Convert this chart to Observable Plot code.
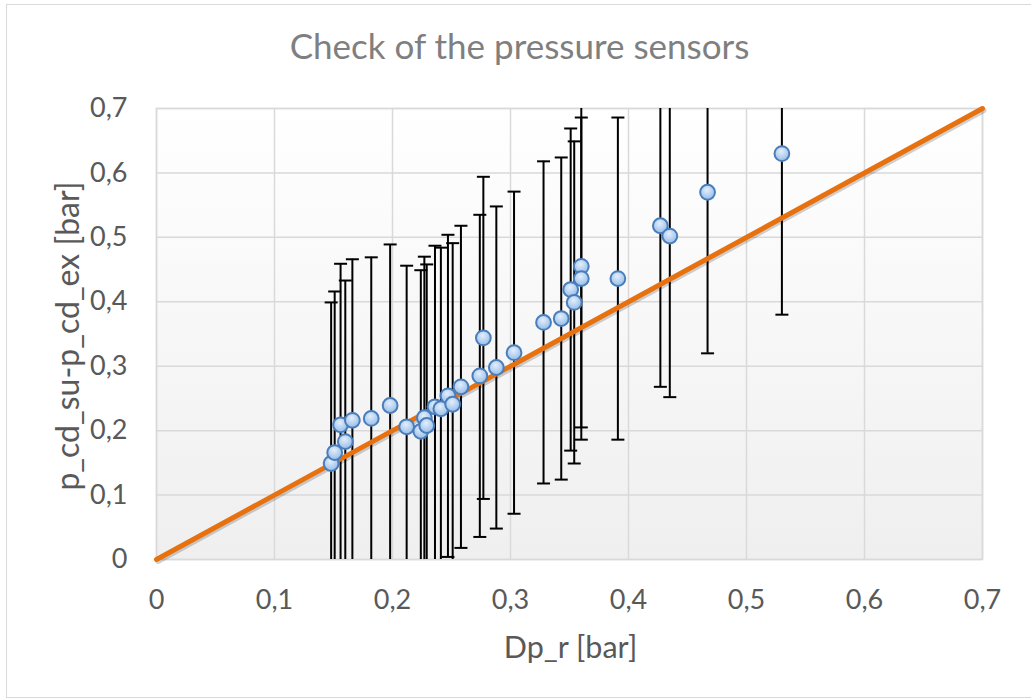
<!DOCTYPE html>
<html><head><meta charset="utf-8">
<script src="https://cdn.jsdelivr.net/npm/d3@7"></script>
<script src="https://cdn.jsdelivr.net/npm/@observablehq/plot@0.6"></script>
<style>
body{margin:0;background:#fff;}
#chart{position:relative;width:1031px;height:699px;overflow:hidden;}
#border{position:absolute;left:6px;top:4px;width:1060px;height:694px;border:1.5px solid #d9d9d9;box-sizing:border-box;}
#chart svg{position:absolute;left:0;top:0;}
</style></head><body><div id="chart"><div id="border"></div></div>
<script>
// measured series (bar)
const dpR   = [0.148,0.151,0.156,0.160,0.166,0.182,0.198,0.212,0.224,0.227,0.229,0.236,0.241,0.247,0.251,0.258,0.274,0.277,0.288,0.303,0.328,0.343,0.351,0.354,0.360,0.360,0.391,0.427,0.435,0.467,0.530];
const pDiff = [0.149,0.166,0.209,0.183,0.216,0.219,0.239,0.206,0.199,0.220,0.208,0.237,0.234,0.254,0.241,0.268,0.285,0.344,0.298,0.321,0.368,0.374,0.419,0.399,0.455,0.436,0.436,0.518,0.502,0.570,0.630];
const errHalf = 0.25;           // error bar half-width (bar)
const refX = [0, 0.7];           // reference line y = x
const refY = [0, 0.7];
const ticks = [0,0.1,0.2,0.3,0.4,0.5,0.6,0.7];
const tickLabels = ["0","0,1","0,2","0,3","0,4","0,5","0,6","0,7"];
const title = "Check of the pressure sensors";
const xLabel = "Dp_r [bar]";
const yLabel = "p_cd_su-p_cd_ex [bar]";

const data = dpR.map((x,i)=>({x, y:pDiff[i], lo:pDiff[i]-errHalf, hi:pDiff[i]+errHalf}));
const ref = refX.map((x,i)=>({x, y:refY[i]}));
const fmt = d => tickLabels[Math.round(d*10)];
const capSymbol = {draw(ctx, size){ const w = Math.sqrt(size/Math.PI); ctx.moveTo(-w,0); ctx.lineTo(w,0); }};

const plot = Plot.plot({
  width:1031, height:699,
  marginLeft:156, marginRight:49, marginTop:108, marginBottom:140,
  style:{fontFamily:"Lato, 'Open Sans', sans-serif", fontSize:"27px", color:"#595959", background:"transparent", overflow:"visible"},
  x:{domain:[0,0.7], ticks, tickFormat:fmt, tickSize:0, tickPadding:30, label:null},
  y:{domain:[0,0.7], ticks, tickFormat:fmt, tickSize:0, tickPadding:29, label:null},
  marks:[
    Plot.frame({fill:"url(#plotBg)", stroke:"none"}),
    Plot.gridX(ticks,{stroke:"#d9d9d9", strokeOpacity:1, strokeWidth:1.5}),
    Plot.gridY(ticks,{stroke:"#d9d9d9", strokeOpacity:1, strokeWidth:1.5}),
    Plot.frame({stroke:"#d9d9d9", strokeWidth:1.5}),
    Plot.ruleX(data,{x:"x", y1:"lo", y2:"hi", stroke:"#000", strokeWidth:2, clip:true}),
    Plot.dot(data,{x:"x", y:"lo", symbol:capSymbol, r:6.5, stroke:"#000", strokeWidth:2, clip:true}),
    Plot.dot(data,{x:"x", y:"hi", symbol:capSymbol, r:6.5, stroke:"#000", strokeWidth:2, clip:true}),
    Plot.line(ref,{x:"x", y:"y", stroke:"#000", strokeOpacity:0.18, strokeWidth:5, dx:1.5, dy:2}),
    Plot.line(ref,{x:"x", y:"y", stroke:"#E8710F", strokeWidth:5}),
    Plot.dot(data,{x:"x", y:"y", r:7.4, fill:"url(#ptFill)", stroke:"#4A7EBB", strokeWidth:2, ariaLabel:"points"}),
    Plot.text([title],{text:d=>d, frameAnchor:"top", dx:-50, dy:-61, lineAnchor:"middle", textAnchor:"middle", fontSize:35, fill:"#7f7f7f"}),
    Plot.text([xLabel],{text:d=>d, frameAnchor:"bottom", dx:1, dy:89, lineAnchor:"middle", textAnchor:"middle", fontSize:30.5, fill:"#595959"}),
    Plot.text([yLabel],{text:d=>d, frameAnchor:"left", dx:-88, dy:2, rotate:-90, lineAnchor:"middle", textAnchor:"middle", fontSize:32, fill:"#595959"})
  ]
});

const svg = d3.select(plot);
const defs = svg.insert("defs", ":first-child");
const lg = defs.append("linearGradient").attr("id","plotBg").attr("x1",0).attr("y1",0).attr("x2",0).attr("y2",1);
lg.append("stop").attr("offset","0%").attr("stop-color","#ffffff");
lg.append("stop").attr("offset","100%").attr("stop-color","#efefef");
const rg = defs.append("radialGradient").attr("id","ptFill").attr("cx","45%").attr("cy","35%").attr("r","65%");
rg.append("stop").attr("offset","0%").attr("stop-color","#e3eefb");
rg.append("stop").attr("offset","100%").attr("stop-color","#96bde9");
const sh = defs.append("filter").attr("id","shadow").attr("x","-20%").attr("y","-20%").attr("width","150%").attr("height","150%");
sh.append("feDropShadow").attr("dx",1.5).attr("dy",2).attr("stdDeviation",1.5).attr("flood-color","#000").attr("flood-opacity",0.3);
svg.selectAll("g[aria-label=points]").attr("filter","url(#shadow)");

document.getElementById("chart").appendChild(plot);
</script>
</body></html>
